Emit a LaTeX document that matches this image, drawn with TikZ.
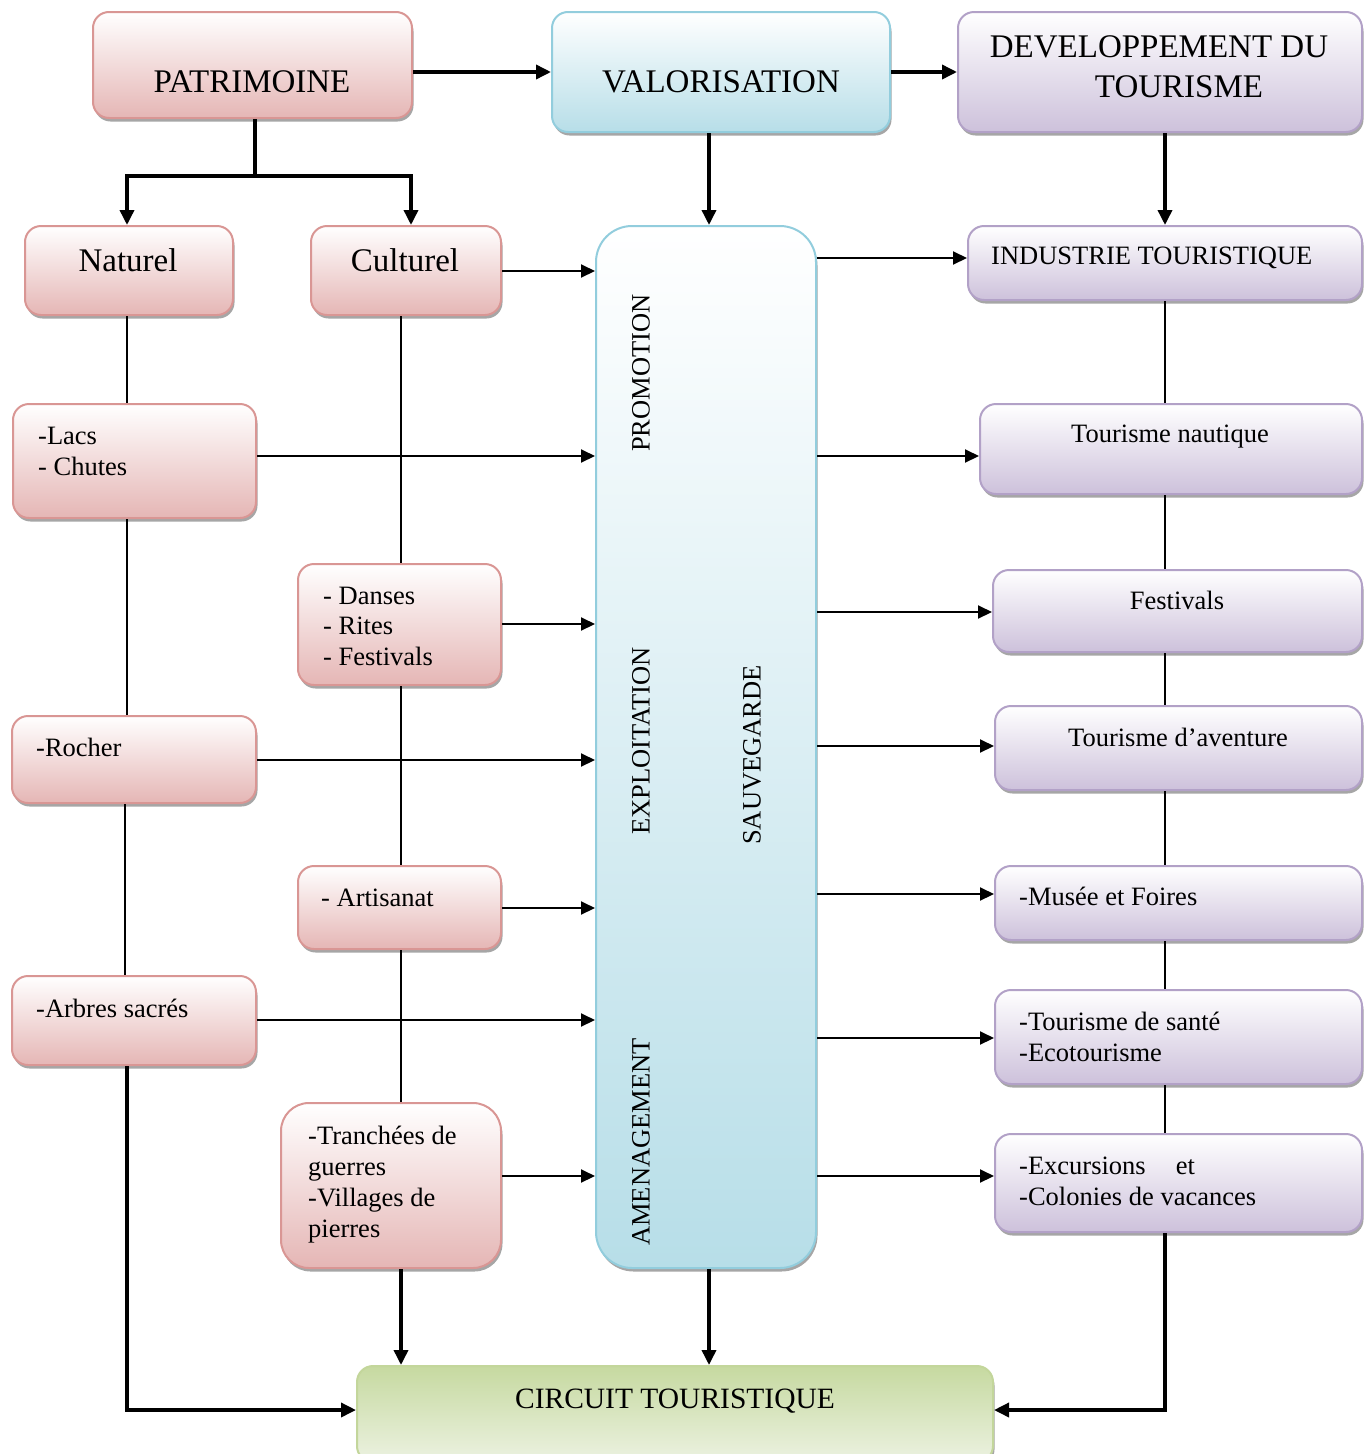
\documentclass[tikz,border=0pt]{standalone}
\usepackage{fontspec}
\setmainfont{Liberation Serif}
\usetikzlibrary{arrows.meta,shadows}
\definecolor{redB}{RGB}{217,150,148}
\definecolor{redF}{RGB}{229,182,181}
\definecolor{bluB}{RGB}{146,205,221}
\definecolor{bluF}{RGB}{183,222,232}
\definecolor{purB}{RGB}{178,161,199}
\definecolor{purF}{RGB}{205,193,219}
\definecolor{grnB}{RGB}{195,214,155}
\definecolor{grnF}{RGB}{198,217,160}
\definecolor{grnL}{RGB}{236,242,225}
\tikzset{
  box/.style={rectangle, rounded corners=16pt, line width=2pt, inner sep=0pt,
    drop shadow={shadow xshift=1.5pt, shadow yshift=-3.5pt, fill=black, opacity=0.35}},
  rbox/.style={box, draw=redB, top color=white, bottom color=redF},
  bbox/.style={box, draw=bluB, top color=white, bottom color=bluF},
  pbox/.style={box, draw=purB, top color=white, bottom color=purF},
  gbox/.style={box, draw=grnB, top color=grnF, bottom color=grnL},
  txt/.style={font=\fontsize{26.5}{31}\selectfont, inner sep=0pt},
  bigtxt/.style={font=\fontsize{33}{40}\selectfont, inner sep=0pt},
  thkarr/.style={line width=3.5pt, -{Triangle[length=15pt,width=14pt]}},
  thk/.style={line width=3.5pt},
  arr/.style={line width=2pt, -{Triangle[length=14pt,width=13pt]}},
  thn/.style={line width=1.5pt},
}
\newcommand\bx[6]{\node[#6, minimum width={#4-#2}, minimum height={#5-#3}] (#1) at ({(#2+#4)/2},{(#3+#5)/2}) {};}
\begin{document}
\begin{tikzpicture}[x=1pt,y=-1pt]
\useasboundingbox (0,0) rectangle (1372,1454);
% boxes
\bx{pat}{93}{12}{412}{118}{rbox}
\bx{val}{552}{12}{890}{132}{bbox}
\bx{dev}{958}{12}{1362}{132}{pbox}
\bx{nat}{25}{226}{233}{315}{rbox}
\bx{cul}{311}{226}{501}{315}{rbox}
\bx{cen}{596}{226}{816}{1268}{bbox, rounded corners=36pt}
\bx{ind}{968}{226}{1362}{300}{pbox}
\bx{lacs}{13}{404}{256}{518}{rbox}
\bx{naut}{980}{404}{1362}{494}{pbox}
\bx{dan}{298}{564}{501}{685}{rbox}
\bx{fest}{993}{570}{1362}{652}{pbox}
\bx{roc}{12}{716}{256}{803}{rbox}
\bx{avt}{995}{706}{1362}{790}{pbox}
\bx{art}{298}{866}{501}{949}{rbox}
\bx{mus}{995}{866}{1362}{940}{pbox}
\bx{arb}{12}{976}{256}{1065}{rbox}
\bx{san}{995}{990}{1362}{1084}{pbox}
\bx{tra}{281}{1103}{501}{1268}{rbox, rounded corners=28pt}
\bx{exc}{995}{1134}{1362}{1232}{pbox}
\bx{cir}{357}{1366}{993}{1462}{gbox}
% texts
\node[bigtxt] (tpat) at (252,82) {PATRIMOINE};
\node[bigtxt] (tval) at (721,82) {VALORISATION};
\node[bigtxt, anchor=base] (tdev1) at (1159,57) {DEVELOPPEMENT DU};
\node[bigtxt, anchor=base] (tdev2) at (1179,97) {TOURISME};
\node[bigtxt, anchor=base] (tnat) at (128,271) {Naturel};
\node[bigtxt, anchor=base] (tcul) at (405,271) {Culturel};
\node[txt, anchor=base west] (tind) at (991,264) {INDUSTRIE TOURISTIQUE};
\node[txt, anchor=base] (tnaut) at (1170,442) {Tourisme nautique};
\node[txt, anchor=base] (tfest) at (1177,609) {Festivals};
\node[txt, anchor=base] (tavt) at (1178,746) {Tourisme d’aventure};
\node[txt, anchor=base west] (tmus) at (1019,905) {-Musée et Foires};
\node[txt, anchor=base west] (tsan1) at (1019,1030) {-Tourisme de santé};
\node[txt, anchor=base west] (tsan2) at (1019,1061) {-Ecotourisme};
\node[txt, anchor=base west] (texc1) at (1019,1174) {-Excursions\hspace{30pt}et};
\node[txt, anchor=base west] (texc2) at (1019,1205) {-Colonies de vacances};
\node[txt, anchor=base west] (tlac1) at (38,444) {-Lacs};
\node[txt, anchor=base west] (tlac2) at (38,475) {- Chutes};
\node[txt, anchor=base west] (tdan1) at (323,604) {- Danses};
\node[txt, anchor=base west] (tdan2) at (323,634) {- Rites};
\node[txt, anchor=base west] (tdan3) at (323,665) {- Festivals};
\node[txt, anchor=base west] (troc) at (36,756) {-Rocher};
\node[txt, anchor=base west] (tart) at (321,906) {- Artisanat};
\node[txt, anchor=base west] (tarb) at (36,1017) {-Arbres sacrés};
\node[txt, anchor=base west] (ttra1) at (308,1144) {-Tranchées de};
\node[txt, anchor=base west] (ttra2) at (308,1175) {guerres};
\node[txt, anchor=base west] (ttra3) at (308,1206) {-Villages de};
\node[txt, anchor=base west] (ttra4) at (308,1237) {pierres};
\node[font=\fontsize{29.5}{34}\selectfont, inner sep=0pt, anchor=base] (tcir) at (675,1408) {CIRCUIT TOURISTIQUE};
\node[txt, rotate=90] (tpro) at (641,373) {PROMOTION};
\node[txt, rotate=90] (texp) at (641,741) {EXPLOITATION};
\node[txt, rotate=90] (tsau) at (752,755) {SAUVEGARDE};
\node[txt, rotate=90] (tame) at (641,1142) {AMENAGEMENT};
% coordinates
\coordinate (j1) at (255,176);
\coordinate (bl) at (127,1410);
\coordinate (br) at (1165,1410);
% top connectors
\draw[thkarr] (pat.east |- 0,72) -- (val.west |- 0,72);
\draw[thkarr] (val.east |- 0,72) -- (dev.west |- 0,72);
\draw[thk] (pat.south -| j1) -- (j1);
\draw[thkarr] (j1) -| (nat.north -| 127,0);
\draw[thkarr] (j1) -| (cul.north -| 411,0);
\draw[thkarr] (val.south -| 709,0) -- (cen.north -| 709,0);
\draw[thkarr] (dev.south -| 1165,0) -- (ind.north -| 1165,0);
% left columns
\draw[thn] (nat.south -| 127,0) -- (lacs.north -| 127,0);
\draw[thn] (lacs.south -| 127,0) -- (roc.north -| 127,0);
\draw[thn] (roc.south -| 125,0) -- (arb.north -| 125,0);
\draw[thn] (cul.south -| 401,0) -- (dan.north -| 401,0);
\draw[thn] (dan.south -| 401,0) -- (art.north -| 401,0);
\draw[thn] (art.south -| 401,0) -- (tra.north -| 401,0);
% right column
\draw[thn] (ind.south -| 1165,0) -- (naut.north -| 1165,0);
\draw[thn] (naut.south -| 1165,0) -- (fest.north -| 1165,0);
\draw[thn] (fest.south -| 1165,0) -- (avt.north -| 1165,0);
\draw[thn] (avt.south -| 1165,0) -- (mus.north -| 1165,0);
\draw[thn] (mus.south -| 1165,0) -- (san.north -| 1165,0);
\draw[thn] (san.south -| 1165,0) -- (exc.north -| 1165,0);
% into central
\draw[arr] (cul.east |- 0,271) -- (cen.west |- 0,271);
\draw[arr] (lacs.east |- 0,456) -- (cen.west |- 0,456);
\draw[arr] (dan.east |- 0,624) -- (cen.west |- 0,624);
\draw[arr] (roc.east |- 0,760) -- (cen.west |- 0,760);
\draw[arr] (art.east |- 0,908) -- (cen.west |- 0,908);
\draw[arr] (arb.east |- 0,1020) -- (cen.west |- 0,1020);
\draw[arr] (tra.east |- 0,1176) -- (cen.west |- 0,1176);
% out of central
\draw[arr] (cen.east |- 0,258) -- (ind.west |- 0,258);
\draw[arr] (cen.east |- 0,456) -- (naut.west |- 0,456);
\draw[arr] (cen.east |- 0,612) -- (fest.west |- 0,612);
\draw[arr] (cen.east |- 0,746) -- (avt.west |- 0,746);
\draw[arr] (cen.east |- 0,894) -- (mus.west |- 0,894);
\draw[arr] (cen.east |- 0,1038) -- (san.west |- 0,1038);
\draw[arr] (cen.east |- 0,1176) -- (exc.west |- 0,1176);
% bottom
\draw[thkarr] (cen.south -| 709,0) -- (cir.north -| 709,0);
\draw[thkarr] (tra.south -| 401,0) -- (cir.north -| 401,0);
\draw[thkarr] (arb.south -| bl) -- (bl) -- (cir.west |- bl);
\draw[thkarr] (exc.south -| br) -- (br) -- (cir.east |- br);
\end{tikzpicture}
\end{document}
